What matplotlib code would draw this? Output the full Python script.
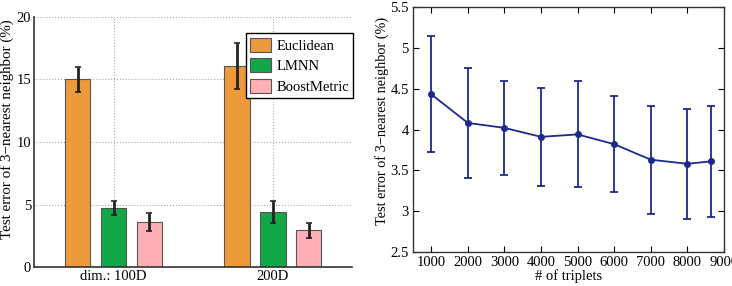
import matplotlib
matplotlib.use("Agg")
import matplotlib.pyplot as plt
import numpy as np

plt.rcParams["font.family"] = ["Liberation Serif", "DejaVu Serif"]
plt.rcParams["font.size"] = 10.5

# left panel: grouped bars
groups = ["dim.: 100D", "200D"]
methods = ["Euclidean", "LMNN", "BoostMetric"]
method_colors = ["#EC9A3C", "#12A84A", "#FFAFB6"]
bar_means = [[15.0, 16.05], [4.7, 4.4], [3.6, 2.95]]
bar_errs = [[1.0, 1.85], [0.55, 0.85], [0.7, 0.6]]

# right panel: error vs number of triplets
triplets = [1000, 2000, 3000, 4000, 5000, 6000, 7000, 8000, 8650]
err_mean = [4.43, 4.08, 4.02, 3.91, 3.94, 3.82, 3.63, 3.58, 3.61]
err_std = [0.71, 0.67, 0.58, 0.60, 0.65, 0.59, 0.66, 0.67, 0.68]

ylab = "Test error of 3\u2212nearest neighbor (%)"

fig = plt.figure(figsize=(7.32, 2.86), dpi=100)
ax1 = fig.add_axes([0.0464, 0.0664, 0.4350, 0.8742])
ax2 = fig.add_axes([0.5642, 0.1189, 0.4248, 0.8566])

x = np.arange(1, len(groups) + 1)
offsets = [-0.225, 0.0, 0.225]
for i, m in enumerate(methods):
    ax1.bar(x + offsets[i], bar_means[i], width=0.16, color=method_colors[i],
            edgecolor="#555555", linewidth=0.8, label=m, zorder=2)
    ax1.errorbar(x + offsets[i], bar_means[i], yerr=bar_errs[i], fmt="none",
                 ecolor="#222222", elinewidth=2.0, capsize=2, capthick=1.2, zorder=3)
ax1.set_xlim(0.5, 2.5)
ax1.set_ylim(0, 20)
ax1.set_xticks(x)
ax1.set_xticklabels(groups)
ax1.set_yticks([0, 5, 10, 15, 20])
ax1.tick_params(length=0, pad=2)
ax1.grid(True, linestyle=":", color="#aaaaaa", linewidth=0.8, zorder=0)
ax1.set_axisbelow(True)
for s in ["top", "right"]:
    ax1.spines[s].set_visible(False)
for s in ["left", "bottom"]:
    ax1.spines[s].set_color("#333333")
    ax1.spines[s].set_linewidth(1.2)
ax1.set_ylabel(ylab, fontsize=10.8)
ax1.yaxis.set_label_coords(-0.063, 0.552)
leg = ax1.legend(loc="upper right", bbox_to_anchor=(1.003, 0.935), fancybox=False,
                 edgecolor="black", framealpha=1, handlelength=1.45, handleheight=1.1,
                 borderpad=0.3, labelspacing=0.38, handletextpad=0.35, borderaxespad=0)
leg.get_frame().set_linewidth(1.0)

ax2.errorbar(triplets, err_mean, yerr=err_std, color="#1B2A8C", marker="o",
             markersize=4, linewidth=1.3, elinewidth=1.3, capsize=3, capthick=1.3)
ax2.set_xlim(500, 9000)
ax2.set_ylim(2.5, 5.5)
ax2.set_xticks(range(1000, 9001, 1000))
ax2.set_yticks([2.5, 3, 3.5, 4, 4.5, 5, 5.5])
ax2.set_yticklabels(["2.5", "3", "3.5", "4", "4.5", "5", "5.5"])
ax2.tick_params(direction="in", top=True, right=True, length=4, pad=3)
for s in ax2.spines.values():
    s.set_color("#333333")
    s.set_linewidth(1.0)
ax2.set_xlabel("# of triplets", labelpad=0)
ax2.set_ylabel(ylab, fontsize=10.3)
ax2.yaxis.set_label_coords(-0.077, 0.533)

fig.savefig("out.png", dpi=100)
